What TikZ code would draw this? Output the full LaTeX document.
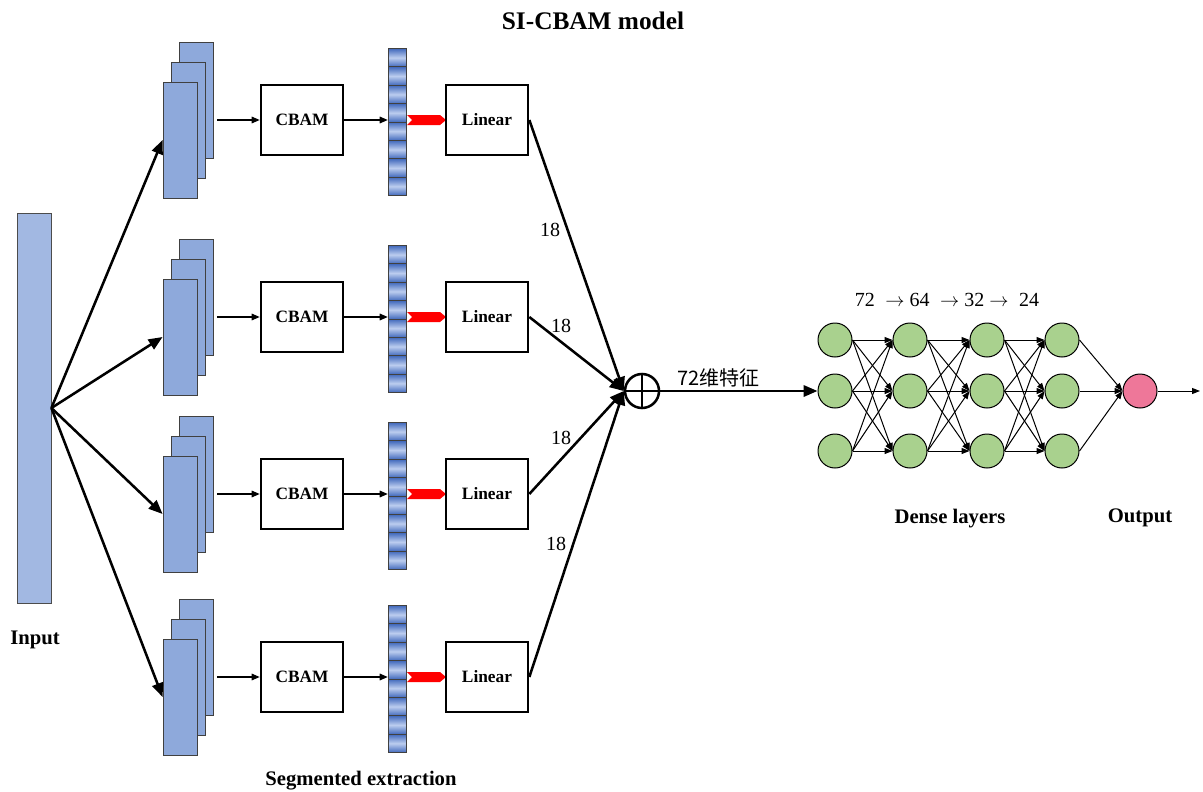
\documentclass[tikz,border=0pt]{standalone}
\usepackage{fontspec}
\setmainfont{Liberation Serif}
\newfontfamily\cjk{Noto Sans CJK SC}
\usetikzlibrary{arrows.meta}

\definecolor{inputblue}{HTML}{A2B8E2}
\definecolor{stackblue}{HTML}{8EA9DB}
\definecolor{celldark}{HTML}{4169BC}
\definecolor{celllight}{HTML}{BCCDEF}
\definecolor{nodegreen}{HTML}{A9D18E}
\definecolor{nodepink}{HTML}{EE7799}

\tikzset{
  bigarrow/.style={line width=1.9pt, -{Triangle[length=10.5pt,width=8.5pt]}},
  thinarrow/.style={line width=0.8pt, -{Triangle[length=6pt,width=5pt]}},
  nnedge/.style={line width=0.75pt, -{Triangle[length=6pt,width=4.5pt]}},
  fmap/.style={draw=black!75, fill=stackblue, line width=0.6pt, minimum width=25.5pt, minimum height=87pt, inner sep=0pt},
  opbox/.style={draw, line width=2pt, minimum width=61.5pt, minimum height=52.5pt, font=\fontsize{13}{15}\selectfont\bfseries},
  neuron/.style={circle, draw, line width=0.75pt, fill=nodegreen, minimum size=25.5pt, inner sep=0pt},
  lbl/.style={font=\fontsize{15.5}{18}\selectfont\bfseries},
  num/.style={font=\fontsize{15}{18}\selectfont},
}

\begin{document}
\begin{tikzpicture}[x=0.75pt,y=-0.75pt]
\useasboundingbox (0,0) rectangle (1203,792);

\node[font=\fontsize{19}{22}\selectfont\bfseries] (title) at (593,21) {SI-CBAM model};

% input
\node[draw=black!70, fill=inputblue, line width=0.6pt, minimum width=25.5pt, minimum height=292.5pt, inner sep=0pt] (input) at (34,408) {};
\node[lbl] (inlbl) at (35,640) {Input};

% sum
\node[circle, draw, line width=1.9pt, minimum size=25.5pt, inner sep=0pt] (sum) at (642,391) {};
\draw[line width=1.9pt] (sum.north) -- (sum.south) (sum.west) -- (sum.east);

% branches
\foreach \i/\c/\lx/\ly in {1/120/550/230,2/317/561/326,3/494/561/438,4/677/556/544}{
  \node[fmap] (stkb\i) at (196,\c-20) {};
  \node[fmap] (stkm\i) at (188,\c) {};
  \node[fmap] (stk\i) at (180,\c+20) {};
  \draw[bigarrow] (input.east) -- (stk\i.west);
  \node[opbox] (cbam\i) at (302,\c) {CBAM};
  \coordinate (fm\i) at (217,\c);
  \draw[thinarrow] (fm\i) -- (cbam\i.west);
  \node[minimum width=13.5pt, minimum height=110.25pt, inner sep=0pt] (vec\i) at (397,\c+2) {};
  \foreach \k in {0,...,7}{
    \pgfmathsetmacro\ya{\c-71.5+\k*18.375}
    \pgfmathsetmacro\yb{\ya+18.375}
    \shadedraw[draw=black!75, line width=0.6pt, top color=celldark, bottom color=celldark, middle color=celllight] (388,\ya) rectangle (406,\yb);
  }
  \draw[thinarrow] (cbam\i.east) -- (vec\i.west |- cbam\i.east);
  \fill[red] (407,\c-5) -- (440,\c-5) -- (446,\c) -- (440,\c+5) -- (407,\c+5) -- (412,\c) -- cycle;
  \node[opbox] (lin\i) at (487,\c) {Linear};
  \draw[bigarrow] (lin\i.east) -- (sum.west);
  \node[num] (w\i) at (\lx,\ly) {18};
}

% dense layers
\foreach \j/\x in {1/835,2/910,3/987,4/1062}
  \foreach \r/\y in {1/340,2/391,3/451}
    \node[neuron] (n\j-\r) at (\x,\y) {};
\node[neuron, fill=nodepink] (out) at (1140,391) {};
\coordinate (yhat) at (1200,391);
\foreach \j/\k in {1/2,2/3,3/4}
  \foreach \a in {1,2,3}
    \foreach \b in {1,2,3}
      \draw[nnedge] (n\j-\a.east) -- (n\k-\b.west);
\foreach \a in {1,2,3}
  \draw[nnedge] (n4-\a.east) -- (out.west);
\draw[nnedge] (out.east) -- (yhat);

\draw[bigarrow] (sum.east) -- (n1-2.west) node[pos=0.37, above=-1pt, font=\cjk\fontsize{15}{18}\selectfont] (feat) {72维特征};

\node[num] (dims) at (947,300) {72 \;$\rightarrow$ 64 \;$\rightarrow$ 32 $\rightarrow$ \;24};
\node[lbl] (dense) at (950,519) {Dense layers};
\node[lbl] (outlbl) at (1140,518) {Output};
\node[lbl] (seg) at (361,781) {Segmented extraction};
\end{tikzpicture}
\end{document}
